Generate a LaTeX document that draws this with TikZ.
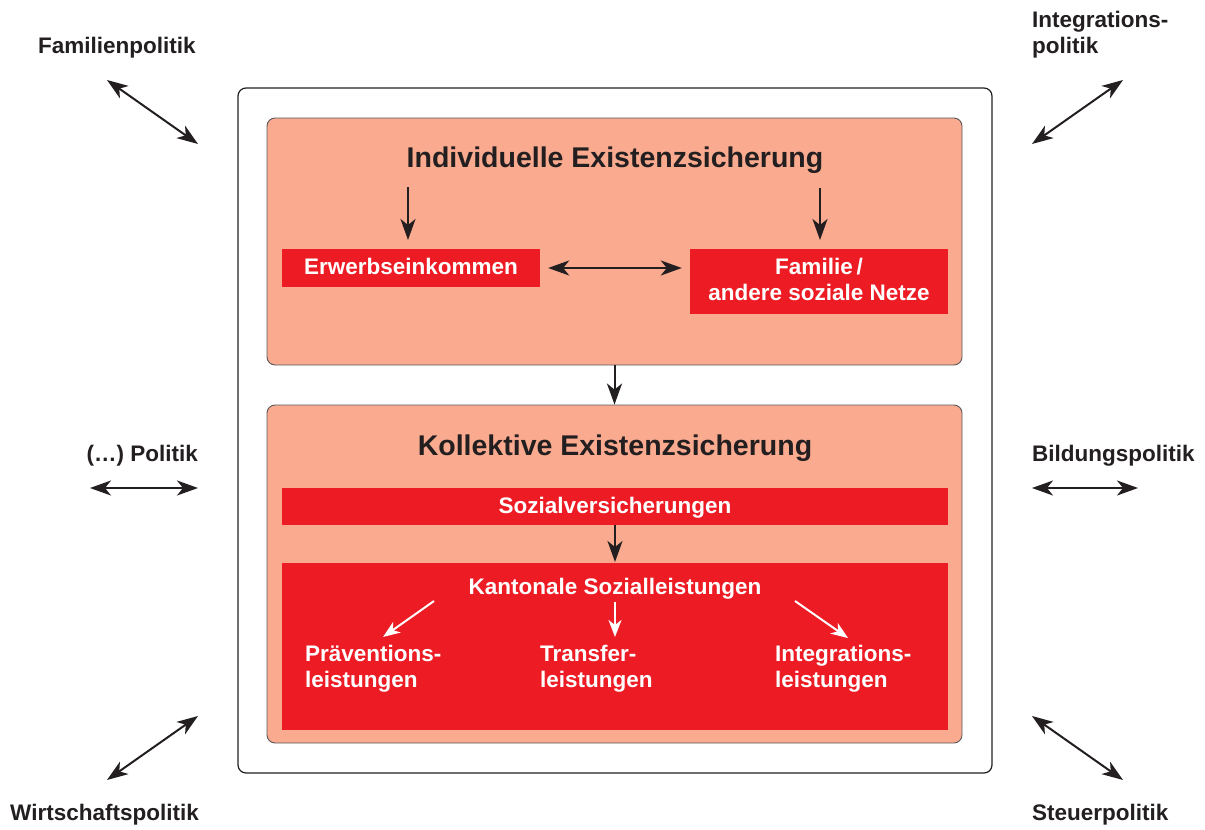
\documentclass[tikz,border=0pt]{standalone}
\usepackage{fontspec}
\setmainfont{Liberation Sans}
\usetikzlibrary{arrows.meta}
\definecolor{salmon}{HTML}{F9AA8F}
\definecolor{bred}{HTML}{ED1C24}
\definecolor{txt}{HTML}{231F20}
\tikzset{
  lbl/.style={font=\bfseries\fontsize{22.5}{26}\selectfont, text=txt, inner sep=0pt},
  ttl/.style={font=\bfseries\fontsize{28.5}{32}\selectfont, text=txt, inner sep=0pt},
  wtxt/.style={font=\bfseries\fontsize{22.5}{26}\selectfont, text=white, inner sep=0pt},
  tip/.tip={Stealth[length=21pt,width=15pt,inset=6pt]},
  wtip/.tip={Stealth[length=17pt,width=13pt,inset=5pt]},
  arr/.style={draw=txt, line width=2pt, -tip},
  darr/.style={draw=txt, line width=2pt, tip-tip},
  warr/.style={draw=white, line width=2pt, -wtip},
  panel/.style={draw=txt!75, line width=0.9pt, fill=salmon, rounded corners=8pt, inner sep=0pt},
  redbox/.style={fill=bred, draw=none, inner sep=0pt},
}
\begin{document}
\begin{tikzpicture}[x=1pt, y=-1pt]
\useasboundingbox (0,0) rectangle (1205,830);
% frames
\node[draw=txt, line width=1.2pt, rounded corners=8pt, minimum width=754pt, minimum height=685pt] (outer) at (615,430.5) {};
\node[panel, minimum width=695pt, minimum height=247pt] (up) at (614.5,241.5) {};
\node[panel, minimum width=695pt, minimum height=338pt] (low) at (614.5,574) {};
% upper panel
\node[ttl, anchor=base] (t1) at (615,167) {Individuelle Existenzsicherung};
\node[redbox, minimum width=258pt, minimum height=38pt] (erw) at (411,268) {};
\node[wtxt, anchor=base] (erwt) at (411,274.5) {Erwerbseinkommen};
\node[redbox, minimum width=258pt, minimum height=65pt] (fam) at (819,281.5) {};
\node[wtxt, anchor=base, align=center] (famt) at (819,300.5) {Familie\,/\\andere soziale Netze};
\coordinate (a1s) at (408,187);
\coordinate (a1e) at (408,240);
\coordinate (a2s) at (820,188);
\coordinate (a2e) at (820,240);
\draw[arr] (a1s) -- (a1e);
\draw[arr] (a2s) -- (a2e);
\draw[darr, shorten <=8pt, shorten >=8pt] (erw.east) -- (fam.west |- erw.east);
\draw[arr] (up.south) -- (low.north);
% lower panel
\node[ttl, anchor=base] (t2) at (615,455) {Kollektive Existenzsicherung};
\node[redbox, minimum width=666pt, minimum height=37pt] (sv) at (615,506.5) {};
\node[wtxt, anchor=base] (svt) at (615,513) {Sozialversicherungen};
\draw[arr] (sv.south) -- (615,562);
\node[redbox, minimum width=666pt, minimum height=167pt] (kt) at (615,646.5) {};
\node[wtxt, anchor=base] (ktt) at (615,594) {Kantonale Sozialleistungen};
\node[wtxt, anchor=base west, align=left] (prae) at (305,687) {Präventions-\\leistungen};
\node[wtxt, anchor=base west, align=left] (trans) at (540,687) {Transfer-\\leistungen};
\node[wtxt, anchor=base west, align=left] (integ) at (775,687) {Integrations-\\leistungen};
\coordinate (w1s) at (434,601);
\coordinate (w1e) at (383,637);
\coordinate (w2s) at (615,602);
\coordinate (w2e) at (615,637);
\coordinate (w3s) at (795,601);
\coordinate (w3e) at (848,638);
\draw[warr] (w1s) -- (w1e);
\draw[warr] (w2s) -- (w2e);
\draw[warr] (w3s) -- (w3e);
% outside labels
\node[lbl, anchor=base west] (fp) at (38,53) {Familienpolitik};
\node[lbl, anchor=base west, align=left] (ip) at (1032,53) {Integrations-\\politik};
\node[lbl, anchor=base east] (xp) at (198,461) {(…) Politik};
\node[lbl, anchor=base west] (bp) at (1032,461) {Bildungspolitik};
\node[lbl, anchor=base west] (wp) at (10,820) {Wirtschaftspolitik};
\node[lbl, anchor=base west] (sp) at (1032,820) {Steuerpolitik};
\coordinate (fpa) at (107,80);
\coordinate (fpb) at (198,144);
\coordinate (ipa) at (1032,144);
\coordinate (ipb) at (1123,80);
\coordinate (xpa) at (90,488);
\coordinate (xpb) at (198,488);
\coordinate (bpa) at (1032,488);
\coordinate (bpb) at (1138,488);
\coordinate (wpa) at (107,780);
\coordinate (wpb) at (198,716);
\coordinate (spa) at (1032,716);
\coordinate (spb) at (1123,780);
\draw[darr] (fpa) -- (fpb);
\draw[darr] (ipa) -- (ipb);
\draw[darr] (xpa) -- (xpb);
\draw[darr] (bpa) -- (bpb);
\draw[darr] (wpa) -- (wpb);
\draw[darr] (spa) -- (spb);
\end{tikzpicture}
\end{document}
